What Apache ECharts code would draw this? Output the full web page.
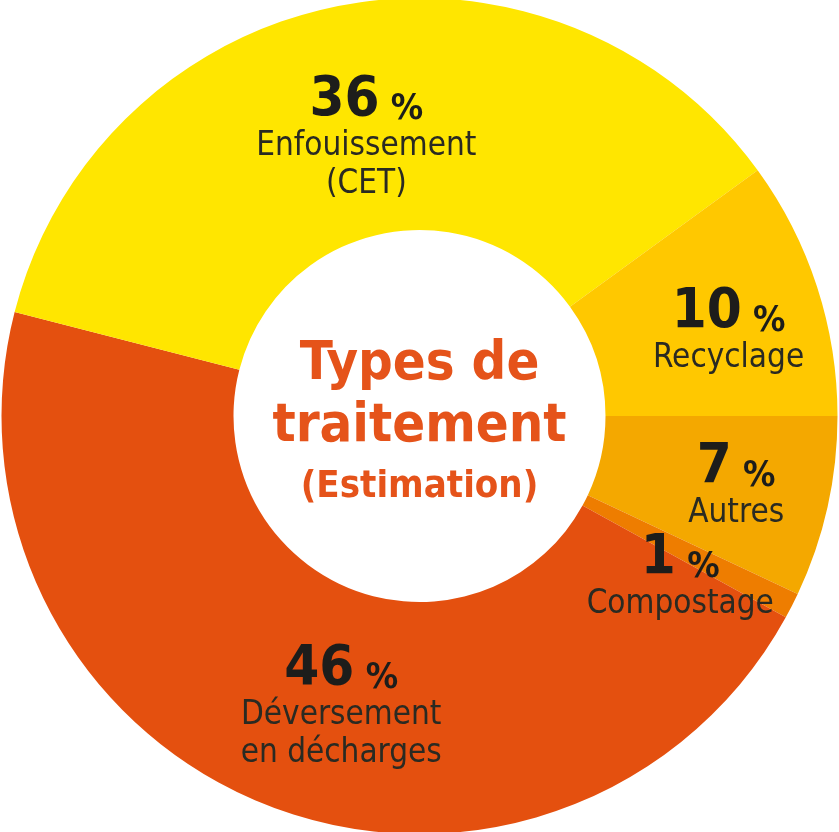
<!DOCTYPE html>
<html>
<head>
<meta charset="utf-8">
<script src="https://cdn.jsdelivr.net/npm/echarts@6/dist/echarts.min.js"></script>
<style>
  html, body { margin: 0; padding: 0; background: #fff; }
  #main { width: 839px; height: 832px; }
</style>
</head>
<body>
<div id="main"></div>
<script>
// parts, clockwise from 3 o'clock
var names = ['Autres', 'Compostage', 'Déversement\nen décharges', 'Enfouissement\n(CET)', 'Recyclage'];
var values = [7, 1, 46, 36, 10];
var colors = ['#F4A800', '#EE7D00', '#E4500F', '#FFE600', '#FFC800'];
// small nudges of each label from the slice middle
var labelShift = [[19, 4], [-11, 23], [34, 8], [4, 22], [19, 10]];

var font = "'DejaVu Sans Condensed', 'Liberation Sans Narrow', sans-serif";

var data = [];
for (var i = 0; i < names.length; i++) {
    data.push({
        name: names[i],
        value: values[i],
        itemStyle: { color: colors[i] }
    });
}

var option = {
    backgroundColor: '#fff',
    animation: false,
    title: {
        text: '{a|Types de}\n{a|traitement}\n{b|(Estimation)}',
        left: 'center',
        top: 334,
        padding: 0,
        textStyle: {
            rich: {
                a: { fontFamily: font, fontWeight: 'bold', fontSize: 54, lineHeight: 62, color: '#E5531A', align: 'center' },
                b: { fontFamily: font, fontWeight: 'bold', fontSize: 38, lineHeight: 58, color: '#E5531A', align: 'center' }
            }
        }
    },
    series: [{
        type: 'pie',
        center: ['50%', '50%'],
        radius: [186, 418],
        startAngle: 0,
        clockwise: true,
        silent: true,
        itemStyle: { borderWidth: 0 },
        label: {
            position: 'inside',
            formatter: function (p) {
                var lines = p.name.split('\n').map(function (s) { return '{t|' + s + '}'; });
                return '{n|' + p.value + '}{p| %}\n' + lines.join('\n');
            },
            rich: {
                n: { fontFamily: font, fontWeight: 'bold', fontSize: 56, lineHeight: 54, color: '#1d1d1b' },
                p: { fontFamily: font, fontWeight: 'bold', fontSize: 36, lineHeight: 54, color: '#1d1d1b', verticalAlign: 'bottom' },
                t: { fontFamily: font, fontSize: 33, lineHeight: 38, color: '#2a2a22', align: 'center' }
            }
        },
        labelLine: { show: false },
        labelLayout: function (params) {
            var s = labelShift[params.dataIndex];
            return { dx: s[0], dy: s[1] };
        },
        data: data
    }]
};

var myChart = echarts.init(document.getElementById('main'));
myChart.setOption(option);
</script>
</body>
</html>
